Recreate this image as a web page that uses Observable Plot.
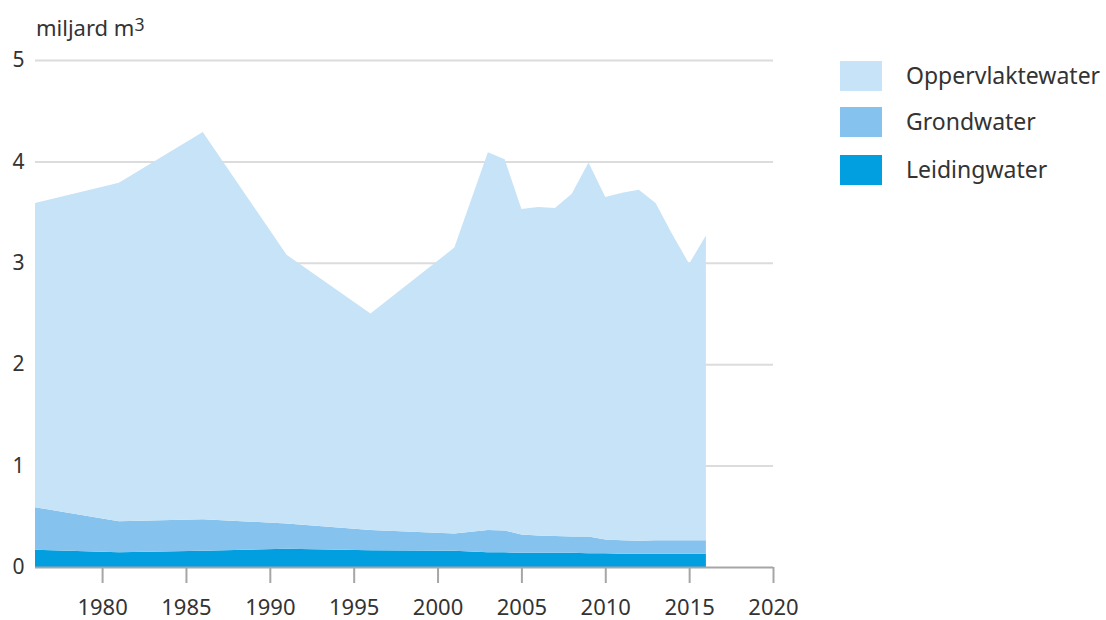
<!DOCTYPE html>
<html>
<head>
<meta charset="utf-8">
<script src="https://cdn.jsdelivr.net/npm/d3@7"></script>
<script src="https://cdn.jsdelivr.net/npm/@observablehq/plot@0.6"></script>
<style>
  body { margin: 0; background: #fff; font-family: "Noto Sans", sans-serif; color: #333; }
  #wrap { position: relative; width: 1106px; height: 620px; overflow: hidden; }
  #ylabel { position: absolute; left: 36px; top: 12px; font-size: 22px; line-height: 30px; color: #333; white-space: nowrap; }
  #ylabel sup { font-size: 0.8em; vertical-align: 0.3em; line-height: 0; }
  #legend { position: absolute; left: 840px; top: 61px; }
  .item { position: absolute; left: 0; height: 30px; white-space: nowrap; }
  .sw { position: absolute; left: 0; top: 0; width: 42px; height: 30px; }
  .lab { position: absolute; left: 66px; top: -1px; line-height: 30px; font-size: 23px; color: #333; }
</style>
</head>
<body>
<div id="wrap">
  <div id="ylabel">miljard m<sup>3</sup></div>
  <div id="legend"></div>
</div>
<script>
// ---- data ----
const years = [1976, 1981, 1986, 1991, 1996, 2001, 2003, 2004, 2005, 2006, 2007, 2008, 2009, 2010, 2011, 2012, 2013, 2014, 2015, 2016];
const leidingwater = [0.17, 0.145, 0.16, 0.18, 0.165, 0.16, 0.145, 0.145, 0.14, 0.14, 0.14, 0.14, 0.135, 0.135, 0.13, 0.13, 0.13, 0.13, 0.13, 0.13];
const grondwater = [0.42, 0.305, 0.31, 0.25, 0.20, 0.17, 0.22, 0.215, 0.18, 0.17, 0.165, 0.16, 0.165, 0.135, 0.135, 0.13, 0.135, 0.135, 0.135, 0.135];
const oppervlaktewater = [3.00, 3.34, 3.82, 2.65, 2.135, 2.82, 3.725, 3.66, 3.21, 3.24, 3.235, 3.38, 3.69, 3.38, 3.425, 3.46, 3.325, 3.015, 2.725, 3.005];

const seriesNames = ["Oppervlaktewater", "Grondwater", "Leidingwater"];
const seriesColors = ["#c7e3f7", "#85c3ee", "#019fe0"];
const xTicks = [1980, 1985, 1990, 1995, 2000, 2005, 2010, 2015, 2020];
const yTicks = [0, 1, 2, 3, 4, 5];

// long table, bottom layer first
const table = [];
const bySeries = { Leidingwater: leidingwater, Grondwater: grondwater, Oppervlaktewater: oppervlaktewater };
for (const name of ["Leidingwater", "Grondwater", "Oppervlaktewater"]) {
  years.forEach((yr, i) => table.push({ year: yr, type: name, value: bySeries[name][i] }));
}

const chart = Plot.plot({
  width: 1106,
  height: 620,
  marginLeft: 35,
  marginRight: 333,
  marginTop: 60,
  marginBottom: 53,
  style: { fontFamily: '"Noto Sans", sans-serif', background: "transparent" },
  x: { domain: [1976, 2020], label: null },
  y: { domain: [0, 5], label: null },
  color: { domain: seriesNames, range: seriesColors },
  marks: [
    Plot.gridY(yTicks.filter(d => d > 0), { stroke: "#dcdcdc", strokeOpacity: 1, strokeWidth: 2 }),
    Plot.areaY(table, { x: "year", y: "value", fill: "type", order: ["Leidingwater", "Grondwater", "Oppervlaktewater"] }),
    Plot.ruleY([0], { stroke: "#a6a6a6", strokeWidth: 2 }),
    Plot.axisX({ ticks: xTicks, tickSize: 16, tickFormat: () => "", stroke: "#a6a6a6", strokeWidth: 2, label: null }),
    Plot.axisX({ ticks: xTicks, tickSize: 0, tickPadding: 32, tickFormat: d => String(d), fill: "#333", fontSize: 22, label: null }),
    Plot.axisY({ ticks: yTicks, tickSize: 0, tickPadding: 11, tickFormat: d => String(d), fill: "#333", fontSize: 21, label: null })
  ]
});
chart.style.position = "absolute";
chart.style.left = "0";
chart.style.top = "0";
document.getElementById("wrap").prepend(chart);

const legend = document.getElementById("legend");
const tops = [0, 46, 94];
seriesNames.forEach((name, i) => {
  const it = document.createElement("div");
  it.className = "item";
  it.style.top = tops[i] + "px";
  it.innerHTML = `<div class="sw" style="background:${seriesColors[i]}"></div><div class="lab">${name}</div>`;
  legend.appendChild(it);
});
</script>
</body>
</html>
